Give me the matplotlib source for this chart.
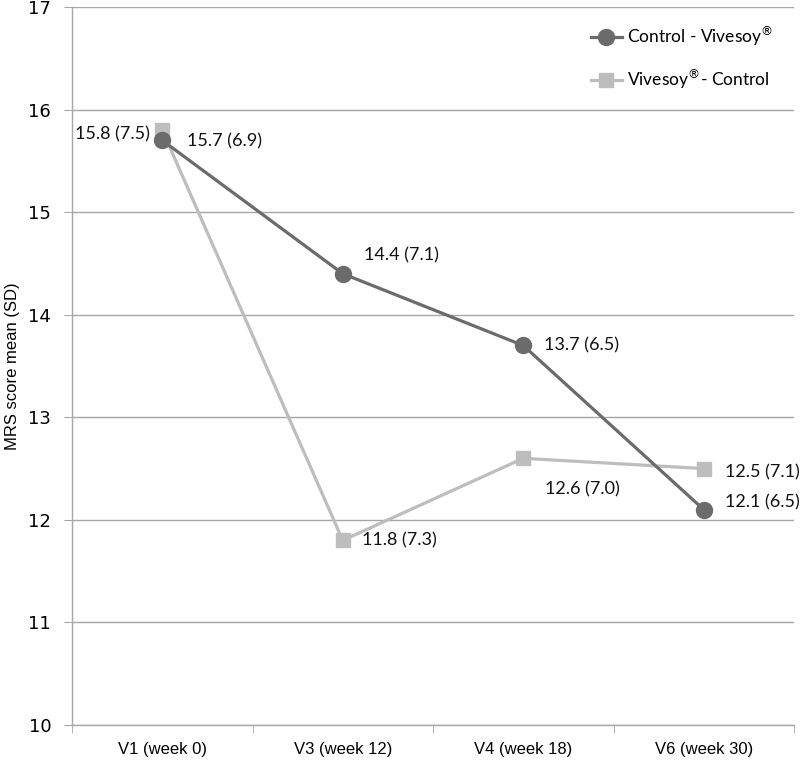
import matplotlib.pyplot as plt
import numpy as np

# data
visits = ['V1 (week 0)', 'V3 (week 12)', 'V4 (week 18)', 'V6 (week 30)']
ctrl_viv = [15.7, 14.4, 13.7, 12.1]
ctrl_viv_sd = [6.9, 7.1, 6.5, 6.5]
viv_ctrl = [15.8, 11.8, 12.6, 12.5]
viv_ctrl_sd = [7.5, 7.3, 7.0, 7.1]

dark = '#6b6b6b'
light = '#bdbdbd'

fig = plt.figure(figsize=(8, 7.63), dpi=100)
ax = fig.add_axes([0.09, 0.0498, 0.9025, 0.9410])

x = np.arange(len(visits))
ax.plot(x, ctrl_viv, color=dark, lw=2.3, marker='o', ms=11.5, zorder=4,
        label='Control - Vivesoy$^{\\circledR}$')
ax.plot(x, viv_ctrl, color=light, lw=2.3, marker='s', ms=10.5, zorder=3,
        label='Vivesoy$^{\\circledR}$- Control')

# data labels (offsets in points from each marker)
lab_font = dict(family='Lato', fontsize=13, color='#111111')
off_ctrl = [(18, -1), (15, 13), (15, 0), (15, 5)]
off_viv = [(-9, -3), (14, 0), (16, -22), (15, -3)]
for i in range(len(visits)):
    ax.annotate(f'{ctrl_viv[i]} ({ctrl_viv_sd[i]})', (x[i], ctrl_viv[i]),
                xytext=off_ctrl[i], textcoords='offset points',
                ha='left', va='center', **lab_font)
    ha = 'right' if off_viv[i][0] < 0 else 'left'
    ax.annotate(f'{viv_ctrl[i]} ({viv_ctrl_sd[i]})', (x[i], viv_ctrl[i]),
                xytext=off_viv[i], textcoords='offset points',
                ha=ha, va='center', **lab_font)

ax.set_xlim(-0.5, 3.5)
ax.set_ylim(10, 17)
ax.set_yticks(range(10, 18))
ax.yaxis.grid(True, color='#a6a6a6', lw=1)
ax.set_axisbelow(True)

ax.set_xticks(x)
ax.set_xticklabels(visits, family='Liberation Sans', fontsize=12)
ax.set_xticks(np.arange(-0.5, 4, 1), minor=True)
ax.tick_params(axis='x', which='major', length=0, pad=12)
ax.tick_params(axis='x', which='minor', length=6, color='#a6a6a6', direction='out')
ax.tick_params(axis='y', length=6, color='#a6a6a6', pad=9, labelsize=13)
for lbl in ax.get_yticklabels():
    lbl.set_family('DejaVu Sans')

for s in ['top', 'right']:
    ax.spines[s].set_visible(False)
for s in ['left', 'bottom']:
    ax.spines[s].set_color('#a6a6a6')
    ax.spines[s].set_linewidth(1)

ax.set_ylabel('MRS score mean (SD)', family='Liberation Sans', fontsize=12, labelpad=6)

ax.legend(loc='upper right', bbox_to_anchor=(0.995, 1.0), frameon=False,
          prop={'family': 'Lato', 'size': 12.5}, handlelength=1.8,
          labelspacing=1.1, handletextpad=0.3, borderaxespad=0.6)

fig.savefig('out.png', dpi=100)
